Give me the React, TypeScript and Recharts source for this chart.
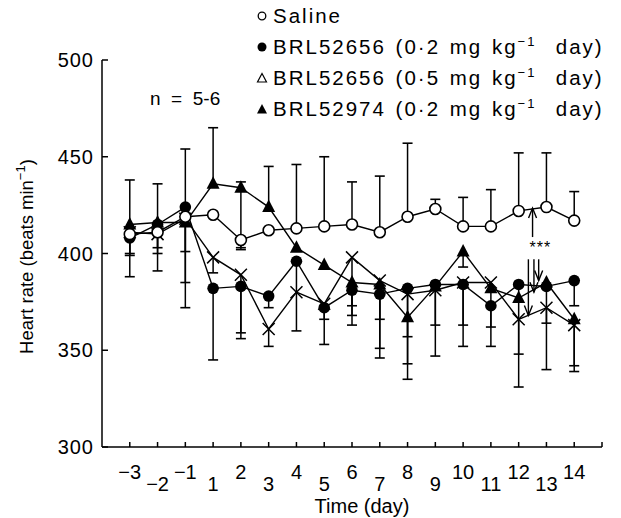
import React from 'react';
import {
  LineChart,
  Line,
  XAxis,
  YAxis,
  ErrorBar,
  ReferenceLine,
  ReferenceDot
} from 'recharts';

// days on the x axis (there is no day 0)
const DAYS = [-3, -2, -1, 1, 2, 3, 4, 5, 6, 7, 8, 9, 10, 11, 12, 13, 14];
const TICK_POS = [0, 1, 2, 3, 4, 5, 6, 7, 8, 9, 10, 11, 12, 13, 14, 15, 16, 17];
const Y_TICKS = [300, 350, 400, 450, 500];

// heart rate means (beats/min)
const SALINE = [410, 411, 419, 420, 407, 412, 413, 414, 415, 411, 419, 423, 414, 414, 422, 424, 417];
const BRL02 = [408, 415, 424, 382, 383, 378, 396, 372, 381, 379, 382, 384, 384, 373, 384, 383, 386];
const BRL05 = [411, 410, 418, 398, 389, 361, 380, 374, 398, 386, 379, 381, 385, 385, 366, 372, 363];
const BRL974 = [415, 416, 416, 436, 434, 424, 403, 394, 385, 384, 367, 383, 401, 382, 377, 385, 366];

// one-sided s.e.m. bars (0 = no bar)
const SALINE_DOWN = [10, 8, 0, 0, 5, 0, 0, 0, 0, 0, 0, 0, 0, 0, 0, 0, 0];
const SALINE_UP = [0, 0, 35, 0, 0, 0, 33, 36, 22, 29, 38, 5, 15, 19, 30, 28, 15];
const BRL02_DOWN = [20, 24, 52, 37, 27, 6, 36, 19, 18, 33, 39, 21, 32, 11, 36, 43, 13];
const BRL05_DOWN = [12, 10, 17, 8, 30, 9, 0, 8, 30, 20, 22, 34, 22, 33, 35, 8, 21];
const BRL974_UP = [23, 20, 0, 29, 3, 21, 0, 0, 0, 0, 0, 0, 0, 0, 0, 0, 0];
const BRL974_DOWN = [0, 0, 31, 0, 31, 0, 0, 0, 12, 33, 32, 0, 8, 0, 0, 0, 27];

const endOf = (v: number, e: number, sign: number) => (e ? v + sign * e : null);

const data = DAYS.map((d, i) => ({
  i,
  day: d,
  saline: SALINE[i],
  salineErr: [SALINE_DOWN[i], SALINE_UP[i]],
  salineLo: endOf(SALINE[i], SALINE_DOWN[i], -1),
  salineHi: endOf(SALINE[i], SALINE_UP[i], 1),
  brl02: BRL02[i],
  brl02Err: [BRL02_DOWN[i], 0],
  brl02Lo: endOf(BRL02[i], BRL02_DOWN[i], -1),
  brl05: BRL05[i],
  brl05Err: [BRL05_DOWN[i], 0],
  brl05Lo: endOf(BRL05[i], BRL05_DOWN[i], -1),
  brl974: BRL974[i],
  brl974Err: [BRL974_DOWN[i], BRL974_UP[i]],
  brl974Lo: endOf(BRL974[i], BRL974_DOWN[i], -1),
  brl974Hi: endOf(BRL974[i], BRL974_UP[i], 1)
}));

const CAP_KEYS = ['salineLo', 'salineHi', 'brl02Lo', 'brl05Lo', 'brl974Lo', 'brl974Hi'];

const FONT = '"Liberation Sans", Arial, Helvetica, sans-serif';
const PLOT_TOP = 60;
const PLOT_BOTTOM = 447;

const OpenCircle = (p: any) =>
  p.cx == null ? null : (
    <circle cx={p.cx} cy={p.cy} r={5.5} fill="#fff" stroke="#000" strokeWidth={1.6} />
  );

const FilledCircle = (p: any) =>
  p.cx == null ? null : <circle cx={p.cx} cy={p.cy} r={5.8} fill="#000" />;

const FilledTri = (p: any) =>
  p.cx == null ? null : (
    <polygon
      points={`${p.cx},${p.cy - 7.5} ${p.cx - 6.5},${p.cy + 5} ${p.cx + 6.5},${p.cy + 5}`}
      fill="#000"
    />
  );

const Cross = (p: any) =>
  p.cx == null ? null : (
    <path
      d={`M${p.cx - 6},${p.cy - 6}L${p.cx + 6},${p.cy + 6}M${p.cx - 6},${p.cy + 6}L${p.cx + 6},${p.cy - 6}`}
      stroke="#000"
      strokeWidth={1.5}
      fill="none"
    />
  );

// horizontal cap at the end of an error bar
const Cap = (p: any) => {
  if (p.cx == null || p.cy == null || p.value == null) return null;
  return <line x1={p.cx - 5} x2={p.cx + 5} y1={p.cy} y2={p.cy} stroke="#000" strokeWidth={1.6} />;
};

const DayTick = (props: any) => {
  const { x, y, payload } = props;
  const idx = payload.value;
  const d = DAYS[idx];
  if (d === undefined) return null;
  const label = d < 0 ? `\u2212${-d}` : String(d);
  const dy = idx % 2 === 0 ? 32 : 44;
  return (
    <text x={x} y={y + dy} textAnchor="middle" fontSize={20} fontFamily={FONT} fill="#000">
      {label}
    </text>
  );
};

const YLabel = () => {
  const cx = 33;
  const cy = (PLOT_TOP + PLOT_BOTTOM) / 2 + 3;
  return (
    <text
      x={cx}
      y={cy}
      transform={`rotate(-90, ${cx}, ${cy})`}
      textAnchor="middle"
      fontSize={18.5}
      fontFamily={FONT}
      fill="#000"
    >
      Heart rate (beats min
      <tspan fontSize={13} dy={-8}>{'\u22121'}</tspan>
      <tspan dy={8}>)</tspan>
    </text>
  );
};

const XLabel = (props: any) => {
  const vb = props.viewBox || {};
  const cx = (vb.x ?? 102) + (vb.width ?? 500) / 2 + 10;
  const cy = (vb.y ?? 447) + 66;
  return (
    <text x={cx} y={cy} textAnchor="middle" fontSize={20} fontFamily={FONT} fill="#000">
      Time (day)
    </text>
  );
};

const Arrow = (props: any) => {
  const { x1, y1, x2, y2 } = props;
  if (x1 == null) return null;
  const dir = y2 > y1 ? 1 : -1;
  return (
    <g>
      <line x1={x1} y1={y1} x2={x2} y2={y2} stroke="#000" strokeWidth={1.4} />
      <path
        d={`M${x2 - 4},${y2 - dir * 10}L${x2},${y2}L${x2 + 4},${y2 - dir * 10}`}
        fill="none"
        stroke="#000"
        strokeWidth={1.4}
      />
    </g>
  );
};

const LegendMarker = ({ kind }: { kind: string }) => (
  <svg width={12} height={12} style={{ marginRight: 5, flex: 'none' }}>
    {kind === 'open' && <circle cx={6} cy={6} r={3.8} fill="#fff" stroke="#000" strokeWidth={1.3} />}
    {kind === 'filled' && <circle cx={6} cy={6} r={4.5} fill="#000" />}
    {kind === 'opentri' && <polygon points="6,1.5 1.5,10 10.5,10" fill="none" stroke="#000" strokeWidth={1.2} />}
    {kind === 'tri' && <polygon points="6,1 1,10.5 11,10.5" fill="#000" />}
  </svg>
);

const LEGEND_ROWS = [
  { kind: 'open', name: 'Saline', dose: '' },
  { kind: 'filled', name: 'BRL52656', dose: '0\u00b72' },
  { kind: 'opentri', name: 'BRL52656', dose: '0\u00b75' },
  { kind: 'tri', name: 'BRL52974', dose: '0\u00b72' }
];

export default function App() {
  return (
    <div
      style={{
        position: 'absolute',
        left: 0,
        top: 0,
        width: 621,
        height: 518,
        background: '#fff',
        fontFamily: FONT
      }}
    >
      <LineChart
        width={621}
        height={518}
        data={data}
        margin={{ top: PLOT_TOP, right: 19, bottom: 0, left: 0 }}
      >
        <XAxis
          dataKey="i"
          type="number"
          domain={[-1, 17]}
          ticks={TICK_POS}
          interval={0}
          allowDecimals={false}
          height={518 - PLOT_BOTTOM}
          tickSize={-5}
          tickMargin={5}
          stroke="#000"
          strokeWidth={1.5}
          tick={<DayTick />}
          label={<XLabel />}
        />
        <YAxis
          type="number"
          domain={[300, 500]}
          ticks={Y_TICKS}
          width={102}
          tickSize={-6}
          tickMargin={14}
          stroke="#000"
          strokeWidth={1.5}
          tick={{ fontSize: 20, fill: '#000', fontFamily: FONT, letterSpacing: 1 }}
          label={<YLabel />}
        />
        {CAP_KEYS.map((k) => (
          <Line
            key={k}
            dataKey={k}
            stroke="none"
            isAnimationActive={false}
            legendType="none"
            activeDot={false}
            dot={(p: any) => <Cap key={`${k}-${p.index}`} {...p} />}
          />
        ))}
        <Line
          dataKey="brl05"
          stroke="#000"
          strokeWidth={1.4}
          isAnimationActive={false}
          dot={(p: any) => <Cross key={p.index} {...p} />}
          activeDot={false}
        >
          <ErrorBar dataKey="brl05Err" width={0} stroke="#000" strokeWidth={1.5} direction="y" />
        </Line>
        <Line
          dataKey="brl974"
          stroke="#000"
          strokeWidth={1.4}
          isAnimationActive={false}
          dot={(p: any) => <FilledTri key={p.index} {...p} />}
          activeDot={false}
        >
          <ErrorBar dataKey="brl974Err" width={0} stroke="#000" strokeWidth={1.5} direction="y" />
        </Line>
        <Line
          dataKey="brl02"
          stroke="#000"
          strokeWidth={1.4}
          isAnimationActive={false}
          dot={(p: any) => <FilledCircle key={p.index} {...p} />}
          activeDot={false}
        >
          <ErrorBar dataKey="brl02Err" width={0} stroke="#000" strokeWidth={1.5} direction="y" />
        </Line>
        <Line
          dataKey="saline"
          stroke="#000"
          strokeWidth={1.4}
          isAnimationActive={false}
          dot={(p: any) => <OpenCircle key={p.index} {...p} />}
          activeDot={false}
        >
          <ErrorBar dataKey="salineErr" width={0} stroke="#000" strokeWidth={1.5} direction="y" />
        </Line>
        {/* significance arrows between day 12 and 13 */}
        <ReferenceLine segment={[{ x: 14.5, y: 408.5 }, { x: 14.5, y: 423.5 }]} shape={(p: any) => <Arrow {...p} />} />
        <ReferenceLine segment={[{ x: 14.35, y: 397 }, { x: 14.35, y: 368 }]} shape={(p: any) => <Arrow {...p} />} />
        <ReferenceLine segment={[{ x: 14.55, y: 397 }, { x: 14.55, y: 380 }]} shape={(p: any) => <Arrow {...p} />} />
        <ReferenceLine segment={[{ x: 14.72, y: 397 }, { x: 14.72, y: 386 }]} shape={(p: any) => <Arrow {...p} />} />
        <ReferenceDot
          x={14.78}
          y={403}
          r={0}
          fill="none"
          stroke="none"
          label={{ value: '***', position: 'center', fontSize: 16, fill: '#000', fontFamily: FONT, letterSpacing: 1 }}
        />
      </LineChart>

      <div
        style={{
          position: 'absolute',
          left: 150,
          top: 88,
          fontSize: 19,
          whiteSpace: 'pre',
          color: '#000'
        }}
      >
        {'n  =  5-6'}
      </div>

      <div style={{ position: 'absolute', left: 256, top: 0, color: '#000' }}>
        {LEGEND_ROWS.map((r, k) => (
          <div
            key={k}
            style={{
              display: 'flex',
              alignItems: 'center',
              height: 31,
              fontSize: 20.5,
              whiteSpace: 'pre',
              letterSpacing: 2,
              wordSpacing: 2
            }}
          >
            <LegendMarker kind={r.kind} />
            <span>
              {r.name}
              {r.dose && (
                <>
                  {` (${r.dose} mg kg`}
                  <sup style={{ fontSize: 13, verticalAlign: 'super', lineHeight: 0 }}>{'\u22121'}</sup>
                  {'  day)'}
                </>
              )}
            </span>
          </div>
        ))}
      </div>
    </div>
  );
}
